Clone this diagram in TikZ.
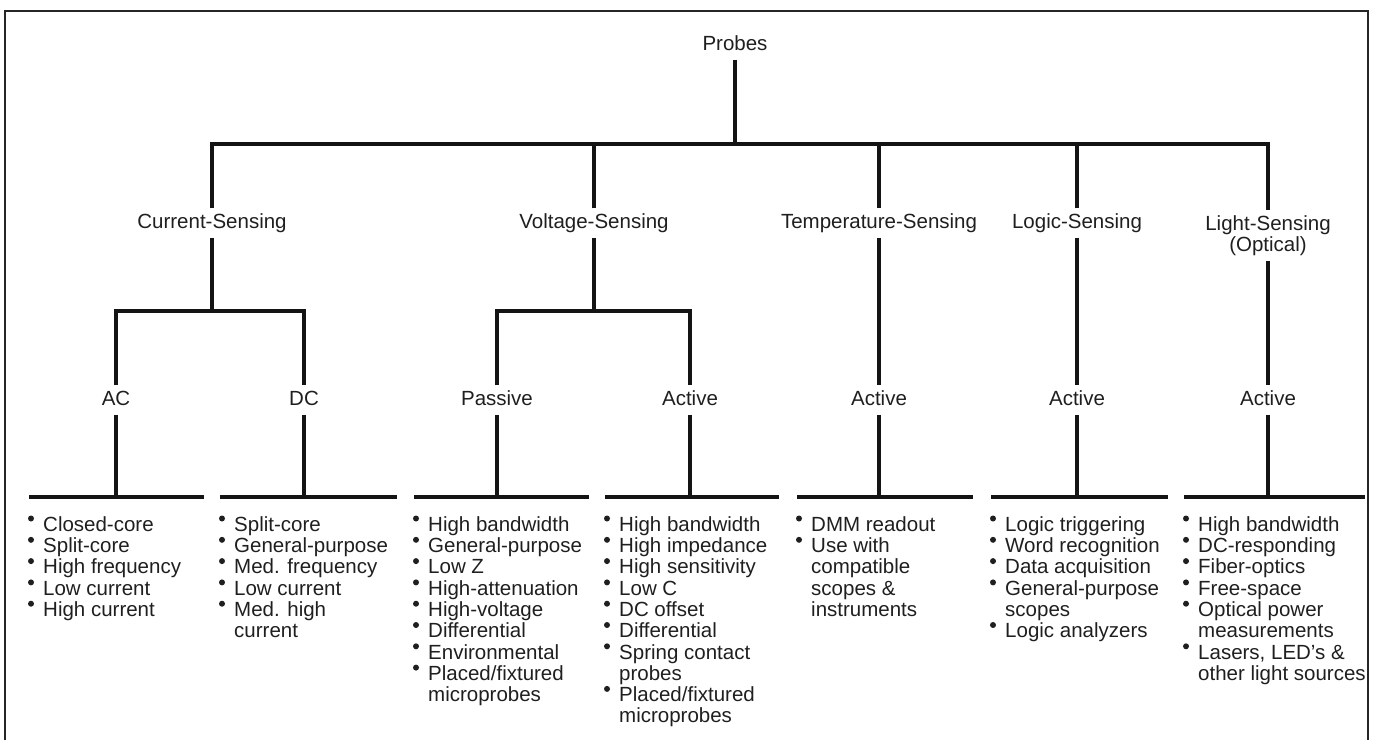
\documentclass[tikz,border=0pt]{standalone}
\usepackage{fontspec}
\setmainfont{Liberation Sans}
\newcommand\fst{\rule{0pt}{16pt}}
\begin{document}
\begin{tikzpicture}[x=1pt,y=-1pt,
  lbl/.style={font=\fontsize{20.5}{21.3}\selectfont, inner xsep=2pt, inner ysep=5pt,
              text height=14.5pt, text depth=4.5pt, text=black!88},
  plist/.style={font=\fontsize{20.5}{21.3}\selectfont, align=left, anchor=north west,
              inner sep=0pt, text=black!88},
  link/.style={line width=3.1pt, line join=miter, black!92},
  base/.style={line width=3.4pt, black!92},
  dot/.style={fill=black!88},
  frame/.style={line width=2.5pt, black!85}]
\useasboundingbox (0,0) rectangle (1375,740);
\draw[frame] (5,740) -- (5,11) -- (1368,11) -- (1368,740);

% labels
\node[lbl] (probes) at (735,45) {Probes};
\node[lbl] (cur) at (212,223) {Current-Sensing};
\node[lbl] (volt) at (594,223) {Voltage-Sensing};
\node[lbl] (temp) at (879,223) {Temperature-Sensing};
\node[lbl] (logic) at (1077,223) {Logic-Sensing};
\node[lbl] (light) at (1268,225) {Light-Sensing};
\node[lbl] (optical) at (1268,246) {(Optical)};

\node[lbl] (ac) at (116,400) {AC};
\node[lbl] (dc) at (304,400) {DC};
\node[lbl] (pas) at (497,400) {Passive};
\node[lbl] (vact) at (690,400) {Active};
\node[lbl] (tact) at (879,400) {Active};
\node[lbl] (lact) at (1077,400) {Active};
\node[lbl] (oact) at (1268,400) {Active};

\coordinate (bar0) at (0,144);
\coordinate (bar1) at (0,311);
\coordinate (bar2) at (0,497);

% top level
\draw[link] (probes.south) -- (probes.south |- bar0);
\draw[link] (cur.north) -- (cur.north |- bar0) -- (light.north |- bar0) -- (light.north);
\foreach \n in {volt,temp,logic} \draw[link] (\n.north) -- (\n.north |- bar0);

% second level
\draw[link] (cur.south) -- (cur.south |- bar1);
\draw[link] (ac.north) -- (ac.north |- bar1) -- (dc.north |- bar1) -- (dc.north);
\draw[link] (volt.south) -- (volt.south |- bar1);
\draw[link] (pas.north) -- (pas.north |- bar1) -- (vact.north |- bar1) -- (vact.north);
\draw[link] (temp.south) -- (tact.north);
\draw[link] (logic.south) -- (lact.north);
\draw[link] (optical.south) -- (oact.north);

% third level
\foreach \n in {ac,dc,pas,vact,tact,lact,oact} \draw[link] (\n.south) -- (\n.south |- bar2);
\coordinate (s1l) at (29,497);   \coordinate (s1r) at (204,497);
\coordinate (s2l) at (220,497);  \coordinate (s2r) at (397,497);
\coordinate (s3l) at (414,497);  \coordinate (s3r) at (589,497);
\coordinate (s4l) at (605,497);  \coordinate (s4r) at (779,497);
\coordinate (s5l) at (797,497);  \coordinate (s5r) at (973,497);
\coordinate (s6l) at (991,497);  \coordinate (s6r) at (1168,497);
\coordinate (s7l) at (1184,497); \coordinate (s7r) at (1365,497);
\foreach \i in {1,...,7} \draw[base] (s\i l) -- (s\i r);

% lists
\node[plist] (l1) at (43,515) {\fst Closed-core\\ Split-core\\ High frequency\\ Low current\\ High current};
\node[plist] (l2) at (234,515) {\fst Split-core\\ General-purpose\\ Med. frequency\\ Low current\\ Med. high\\ current};
\node[plist] (l3) at (428,515) {\fst High bandwidth\\ General-purpose\\ Low Z\\ High-attenuation\\ High-voltage\\ Differential\\ Environmental\\ Placed/fixtured\\ microprobes};
\node[plist] (l4) at (619,515) {\fst High bandwidth\\ High impedance\\ High sensitivity\\ Low C\\ DC offset\\ Differential\\ Spring contact\\ probes\\ Placed/fixtured\\ microprobes};
\node[plist] (l5) at (811,515) {\fst DMM readout\\ Use with\\ compatible\\ scopes \&\\ instruments};
\node[plist] (l6) at (1005,515) {\fst Logic triggering\\ Word recognition\\ Data acquisition\\ General-purpose\\ scopes\\ Logic analyzers};
\node[plist] (l7) at (1198,515) {\fst High bandwidth\\ DC-responding\\ Fiber-optics\\ Free-space\\ Optical power\\ measurements\\ Lasers, LED's \&\\ other light sources};

% bullets
\foreach \x/\ks in {31/{1,2,3,4,5}, 222/{1,2,3,4,5}, 416/{1,2,3,4,5,6,7,8},
                    607/{1,2,3,4,5,6,7,9}, 799/{1,2}, 993/{1,2,3,4,6}, 1186/{1,2,3,4,5,7}}
  \foreach \k in \ks \fill[dot] (\x,{518.5+21.3*(\k-1)}) circle (3pt);
\end{tikzpicture}
\end{document}
